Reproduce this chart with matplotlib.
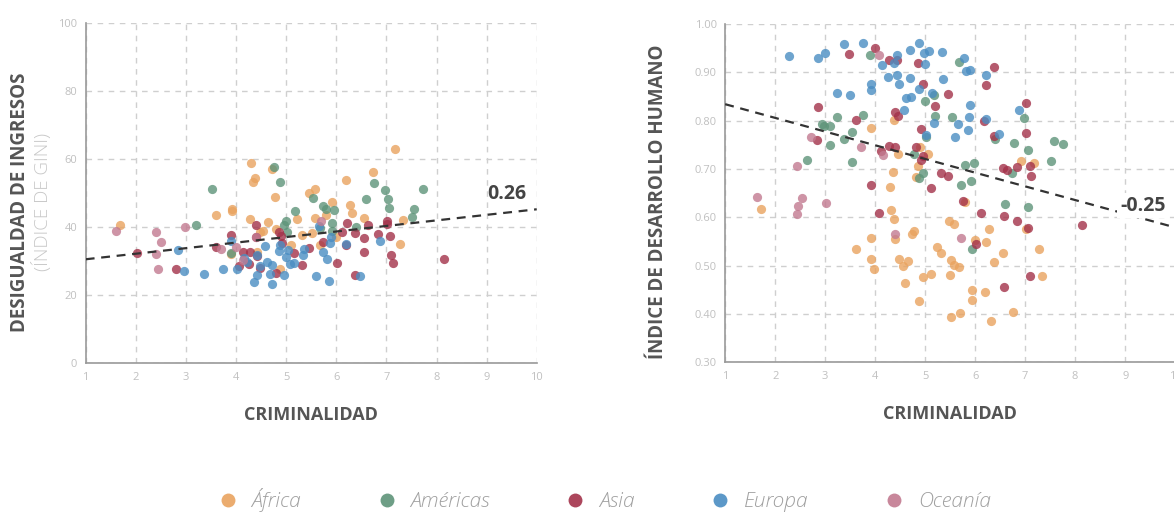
import matplotlib.pyplot as plt
import matplotlib
from matplotlib.lines import Line2D
from matplotlib.ticker import FormatStrFormatter

matplotlib.rcParams['font.family'] = ['Open Sans', 'DejaVu Sans']

# regiones y colores
regions = ['África', 'Américas', 'Asia', 'Europa', 'Oceanía']
colors = ['#E9A35F', '#5E9479', '#A3324A', '#4A8DC2', '#C27A90']

# criminalidad vs. índice de Gini
africa_x_gini = [1.69, 4.29, 4.37, 4.34, 4.72, 4.77, 3.59, 3.91, 3.91, 4.28, 4.63, 3.89, 4.42, 4.53, 4.47, 4.80,
                 4.87, 5.10, 5.22, 5.31, 5.46, 5.57, 5.57, 5.52, 5.67, 5.80, 5.92, 6.00, 6.19, 6.27, 6.31, 6.55,
                 6.74, 7.17, 7.34, 7.27]
africa_gini = [40.7, 59.0, 54.6, 53.2, 57.1, 48.8, 43.6, 45.3, 44.8, 42.4, 41.7, 32.1, 32.8, 38.8, 38.5, 39.4,
               27.7, 34.8, 42.4, 37.7, 50.2, 51.2, 42.6, 38.2, 34.8, 43.6, 47.3, 37.1, 53.9, 46.6, 44.1, 42.6,
               56.2, 62.9, 42.2, 35.0]
americas_x_gini = [3.21, 3.52, 3.89, 4.76, 4.87, 4.99, 4.95, 5.01, 5.17, 5.53, 5.73, 5.79, 5.96, 5.92, 5.67,
                   5.92, 6.60, 6.40, 6.76, 6.97, 7.04, 7.06, 7.52, 7.56, 7.74]
americas_gini = [40.7, 51.2, 32.4, 57.8, 53.2, 42.0, 40.7, 38.5, 44.8, 48.5, 46.3, 45.3, 45.1, 41.2, 39.7,
                 39.0, 48.3, 40.2, 52.9, 50.9, 48.2, 45.7, 42.9, 45.3, 51.4]
asia_x_gini = [2.03, 2.81, 3.59, 3.89, 4.14, 4.27, 4.26, 4.06, 4.39, 4.39, 4.42, 4.47, 4.80, 4.85, 4.92, 5.15,
               5.31, 5.45, 5.74, 6.02, 6.11, 6.19, 6.22, 6.37, 6.37, 6.56, 6.56, 6.63, 6.84, 7.02, 7.02, 7.07,
               7.09, 7.13, 8.15, 4.90]
asia_gini = [32.4, 27.8, 34.2, 37.6, 32.8, 32.8, 29.1, 28.6, 40.7, 37.2, 31.6, 27.9, 26.5, 38.5, 35.5, 32.4,
             28.9, 33.8, 35.8, 29.4, 38.7, 34.8, 41.4, 38.2, 26.0, 36.8, 32.8, 40.7, 37.9, 42.0, 41.0, 37.5,
             31.8, 29.4, 30.7, 37.3]
europa_x_gini = [2.84, 2.97, 3.36, 3.74, 3.89, 4.01, 4.21, 4.36, 4.42, 4.42, 4.48, 4.58, 4.62, 4.67, 4.71, 4.71,
                 4.87, 4.86, 4.96, 4.99, 5.03, 5.08, 5.15, 5.33, 5.35, 5.59, 5.65, 5.74, 5.81, 5.86, 5.88, 5.90,
                 6.20, 6.47, 6.87, 4.15]
europa_gini = [33.3, 27.2, 26.2, 27.7, 36.0, 27.6, 29.9, 24.0, 26.0, 31.9, 28.7, 34.6, 29.7, 26.2, 23.2, 28.9,
               34.8, 33.0, 26.0, 31.4, 33.3, 29.1, 29.4, 31.9, 33.5, 25.7, 40.4, 32.6, 30.7, 24.2, 35.3, 37.1,
               35.0, 25.7, 36.1, 30.9]
oceania_x_gini = [1.61, 2.41, 2.51, 2.41, 2.44, 2.99, 3.69, 3.99, 4.14, 4.39, 5.70]
oceania_gini = [39.0, 38.7, 35.6, 32.2, 27.7, 40.0, 33.5, 34.3, 30.4, 37.1, 41.9]

# criminalidad vs. índice de desarrollo humano
africa_x_hdi = [1.71, 3.91, 4.37, 4.46, 4.90, 5.06, 4.85, 4.81, 4.35, 4.29, 4.31, 4.37, 4.40, 4.78, 4.73, 3.92,
                3.61, 3.92, 3.97, 4.48, 4.55, 4.66, 4.59, 4.87, 4.95, 5.11, 5.23, 5.32, 5.48, 5.58, 5.52, 5.57,
                5.67, 5.50, 5.51, 5.70, 5.80, 6.00, 6.21, 6.27, 5.93, 5.93, 6.20, 6.37, 6.55, 6.31, 6.75, 6.92,
                7.17, 7.01, 7.27, 7.34]
africa_hdi = [0.618, 0.784, 0.801, 0.731, 0.746, 0.731, 0.706, 0.683, 0.693, 0.662, 0.615, 0.597, 0.556, 0.572,
              0.565, 0.558, 0.534, 0.514, 0.493, 0.513, 0.500, 0.509, 0.465, 0.427, 0.477, 0.483, 0.539, 0.526,
              0.593, 0.586, 0.512, 0.501, 0.498, 0.481, 0.394, 0.401, 0.632, 0.552, 0.548, 0.576, 0.450, 0.429,
              0.446, 0.508, 0.526, 0.386, 0.405, 0.717, 0.713, 0.575, 0.535, 0.479]
americas_x_hdi = [3.90, 5.68, 5.00, 5.17, 5.20, 5.53, 2.94, 3.09, 2.98, 3.23, 3.75, 3.53, 3.38, 3.09, 2.64,
                  3.53, 4.78, 5.02, 4.95, 4.87, 5.80, 5.97, 5.72, 5.92, 6.40, 6.77, 6.97, 7.06, 6.73, 7.57,
                  7.75, 7.52, 6.59, 7.05, 5.93]
americas_hdi = [0.936, 0.921, 0.841, 0.853, 0.810, 0.808, 0.793, 0.789, 0.788, 0.808, 0.812, 0.777, 0.763,
                0.750, 0.719, 0.714, 0.730, 0.767, 0.691, 0.682, 0.708, 0.713, 0.667, 0.675, 0.761, 0.753,
                0.805, 0.739, 0.691, 0.758, 0.752, 0.717, 0.628, 0.621, 0.535]
asia_x_hdi = [3.48, 2.86, 2.83, 3.61, 3.99, 4.28, 4.43, 4.85, 4.95, 5.19, 5.45, 6.37, 6.22, 6.18, 6.37, 4.40,
              4.46, 4.92, 4.28, 4.40, 4.12, 4.81, 4.96, 4.92, 5.31, 5.45, 5.12, 3.91, 4.08, 5.76, 6.11, 6.55,
              6.64, 6.84, 7.10, 7.12, 7.02, 7.02, 6.57, 6.84, 7.06, 6.02, 7.10, 6.57, 8.14]
asia_hdi = [0.938, 0.829, 0.759, 0.801, 0.950, 0.925, 0.925, 0.919, 0.875, 0.830, 0.855, 0.910, 0.874, 0.799,
            0.768, 0.817, 0.810, 0.782, 0.748, 0.746, 0.738, 0.746, 0.727, 0.719, 0.692, 0.686, 0.661, 0.666,
            0.608, 0.634, 0.608, 0.703, 0.698, 0.705, 0.706, 0.686, 0.774, 0.837, 0.603, 0.593, 0.577, 0.545,
            0.479, 0.455, 0.585]
europa_x_hdi = [2.28, 2.86, 2.99, 3.38, 3.76, 4.44, 4.37, 4.13, 4.26, 4.44, 4.48, 4.69, 4.70, 4.87, 4.97, 5.08,
                5.00, 5.33, 5.35, 4.88, 5.14, 4.72, 4.62, 4.58, 3.91, 3.91, 3.23, 3.49, 5.17, 5.02, 5.66, 5.60,
                5.85, 5.88, 5.90, 5.77, 5.82, 5.90, 6.22, 6.22, 6.48, 6.88]
europa_hdi = [0.934, 0.929, 0.939, 0.958, 0.960, 0.936, 0.920, 0.915, 0.890, 0.895, 0.875, 0.889, 0.946, 0.961,
              0.939, 0.945, 0.917, 0.941, 0.886, 0.866, 0.858, 0.848, 0.846, 0.821, 0.875, 0.863, 0.858, 0.852,
              0.796, 0.770, 0.794, 0.767, 0.781, 0.808, 0.832, 0.929, 0.903, 0.905, 0.894, 0.803, 0.772, 0.821]
oceania_x_hdi = [1.63, 2.44, 2.53, 2.46, 2.44, 3.01, 2.71, 3.71, 4.16, 4.08, 4.40, 5.72]
oceania_hdi = [0.641, 0.707, 0.639, 0.624, 0.607, 0.629, 0.766, 0.745, 0.729, 0.936, 0.565, 0.558]

# líneas de tendencia (valor en x=1 y x=10) y correlaciones
trend_gini = [30.6, 45.3]
trend_hdi = [0.834, 0.579]
corr_gini = 0.26
corr_hdi = -0.25

gini_data = [(africa_x_gini, africa_gini), (americas_x_gini, americas_gini), (asia_x_gini, asia_gini),
             (europa_x_gini, europa_gini), (oceania_x_gini, oceania_gini)]
hdi_data = [(africa_x_hdi, africa_hdi), (americas_x_hdi, americas_hdi), (asia_x_hdi, asia_hdi),
            (europa_x_hdi, europa_hdi), (oceania_x_hdi, oceania_hdi)]

fig = plt.figure(figsize=(11.74, 5.12), dpi=100)
ax1 = fig.add_axes([0.0730, 0.2904, 0.3842, 0.6641])
ax2 = fig.add_axes([0.6177, 0.2924, 0.3833, 0.6608])


def style(ax):
    ax.set_xlim(1, 10)
    ax.set_xticks(range(1, 11))
    ax.grid(True, color='#cfcfcf', linestyle=(0, (4, 4)), linewidth=1)
    ax.set_axisbelow(True)
    for s in ['top', 'right']:
        ax.spines[s].set_visible(False)
    for s in ['left', 'bottom']:
        ax.spines[s].set_color('#999999')
        ax.spines[s].set_linewidth(1.2)
    ax.tick_params(length=0, labelsize=8, labelcolor='#c0c0c0', pad=6)
    ax.set_xlabel('CRIMINALIDAD', fontsize=13, fontweight='bold', color='#555555', labelpad=17)


for ax, data in [(ax1, gini_data), (ax2, hdi_data)]:
    for (xs, ys), c in zip(data, colors):
        ax.scatter(xs, ys, s=44, color=c, alpha=0.8, linewidths=0, zorder=3)

# izquierda: desigualdad
style(ax1)
ax1.set_ylim(0, 100)
ax1.set_yticks(range(0, 101, 20))
ax1.plot([1, 10], trend_gini, color='#333333', linestyle=(0, (4, 3)), linewidth=1.6, zorder=4)
ax1.text(9.4, 49.8, f'{corr_gini:.2f}', fontsize=14, fontweight='bold', color='#444444',
         ha='center', va='center', zorder=5)

# derecha: desarrollo humano
style(ax2)
ax2.set_ylim(0.3, 1.0)
ax2.set_yticks([0.3, 0.4, 0.5, 0.6, 0.7, 0.8, 0.9, 1.0])
ax2.yaxis.set_major_formatter(FormatStrFormatter('%.2f'))
ax2.plot([1, 10], trend_hdi, color='#333333', linestyle=(0, (4, 3)), linewidth=1.6, zorder=4)
ax2.text(9.35, 0.624, f'{corr_hdi:.2f}', fontsize=14, fontweight='bold', color='#444444',
         ha='center', va='center', zorder=5,
         bbox=dict(facecolor='white', edgecolor='none', pad=2))

fig.text(0.0167, 0.605, 'DESIGUALDAD DE INGRESOS', rotation=90, ha='center', va='center',
         fontsize=13.5, fontweight='bold', color='#555555')
fig.text(0.0358, 0.605, '(ÍNDICE DE GINI)', rotation=90, ha='center', va='center',
         fontsize=13.5, fontweight='light', color='#c8c8c8')
fig.text(0.5605, 0.605, 'ÍNDICE DE DESARROLLO HUMANO', rotation=90, ha='center', va='center',
         fontsize=13.5, fontweight='bold', color='#555555')

handles = [Line2D([], [], marker='o', linestyle='', markersize=10, markerfacecolor=c,
                  markeredgewidth=0, alpha=0.9) for c in colors]
fig.legend(handles, regions, loc='center', bbox_to_anchor=(0.5145, 0.023), ncol=5, frameon=False,
           prop={'family': 'Open Sans', 'style': 'italic', 'weight': 'light', 'size': 15},
           labelcolor='#a0a0a0', handlelength=1, handletextpad=0.65, columnspacing=3.6)

plt.savefig('out.png', dpi=100)
